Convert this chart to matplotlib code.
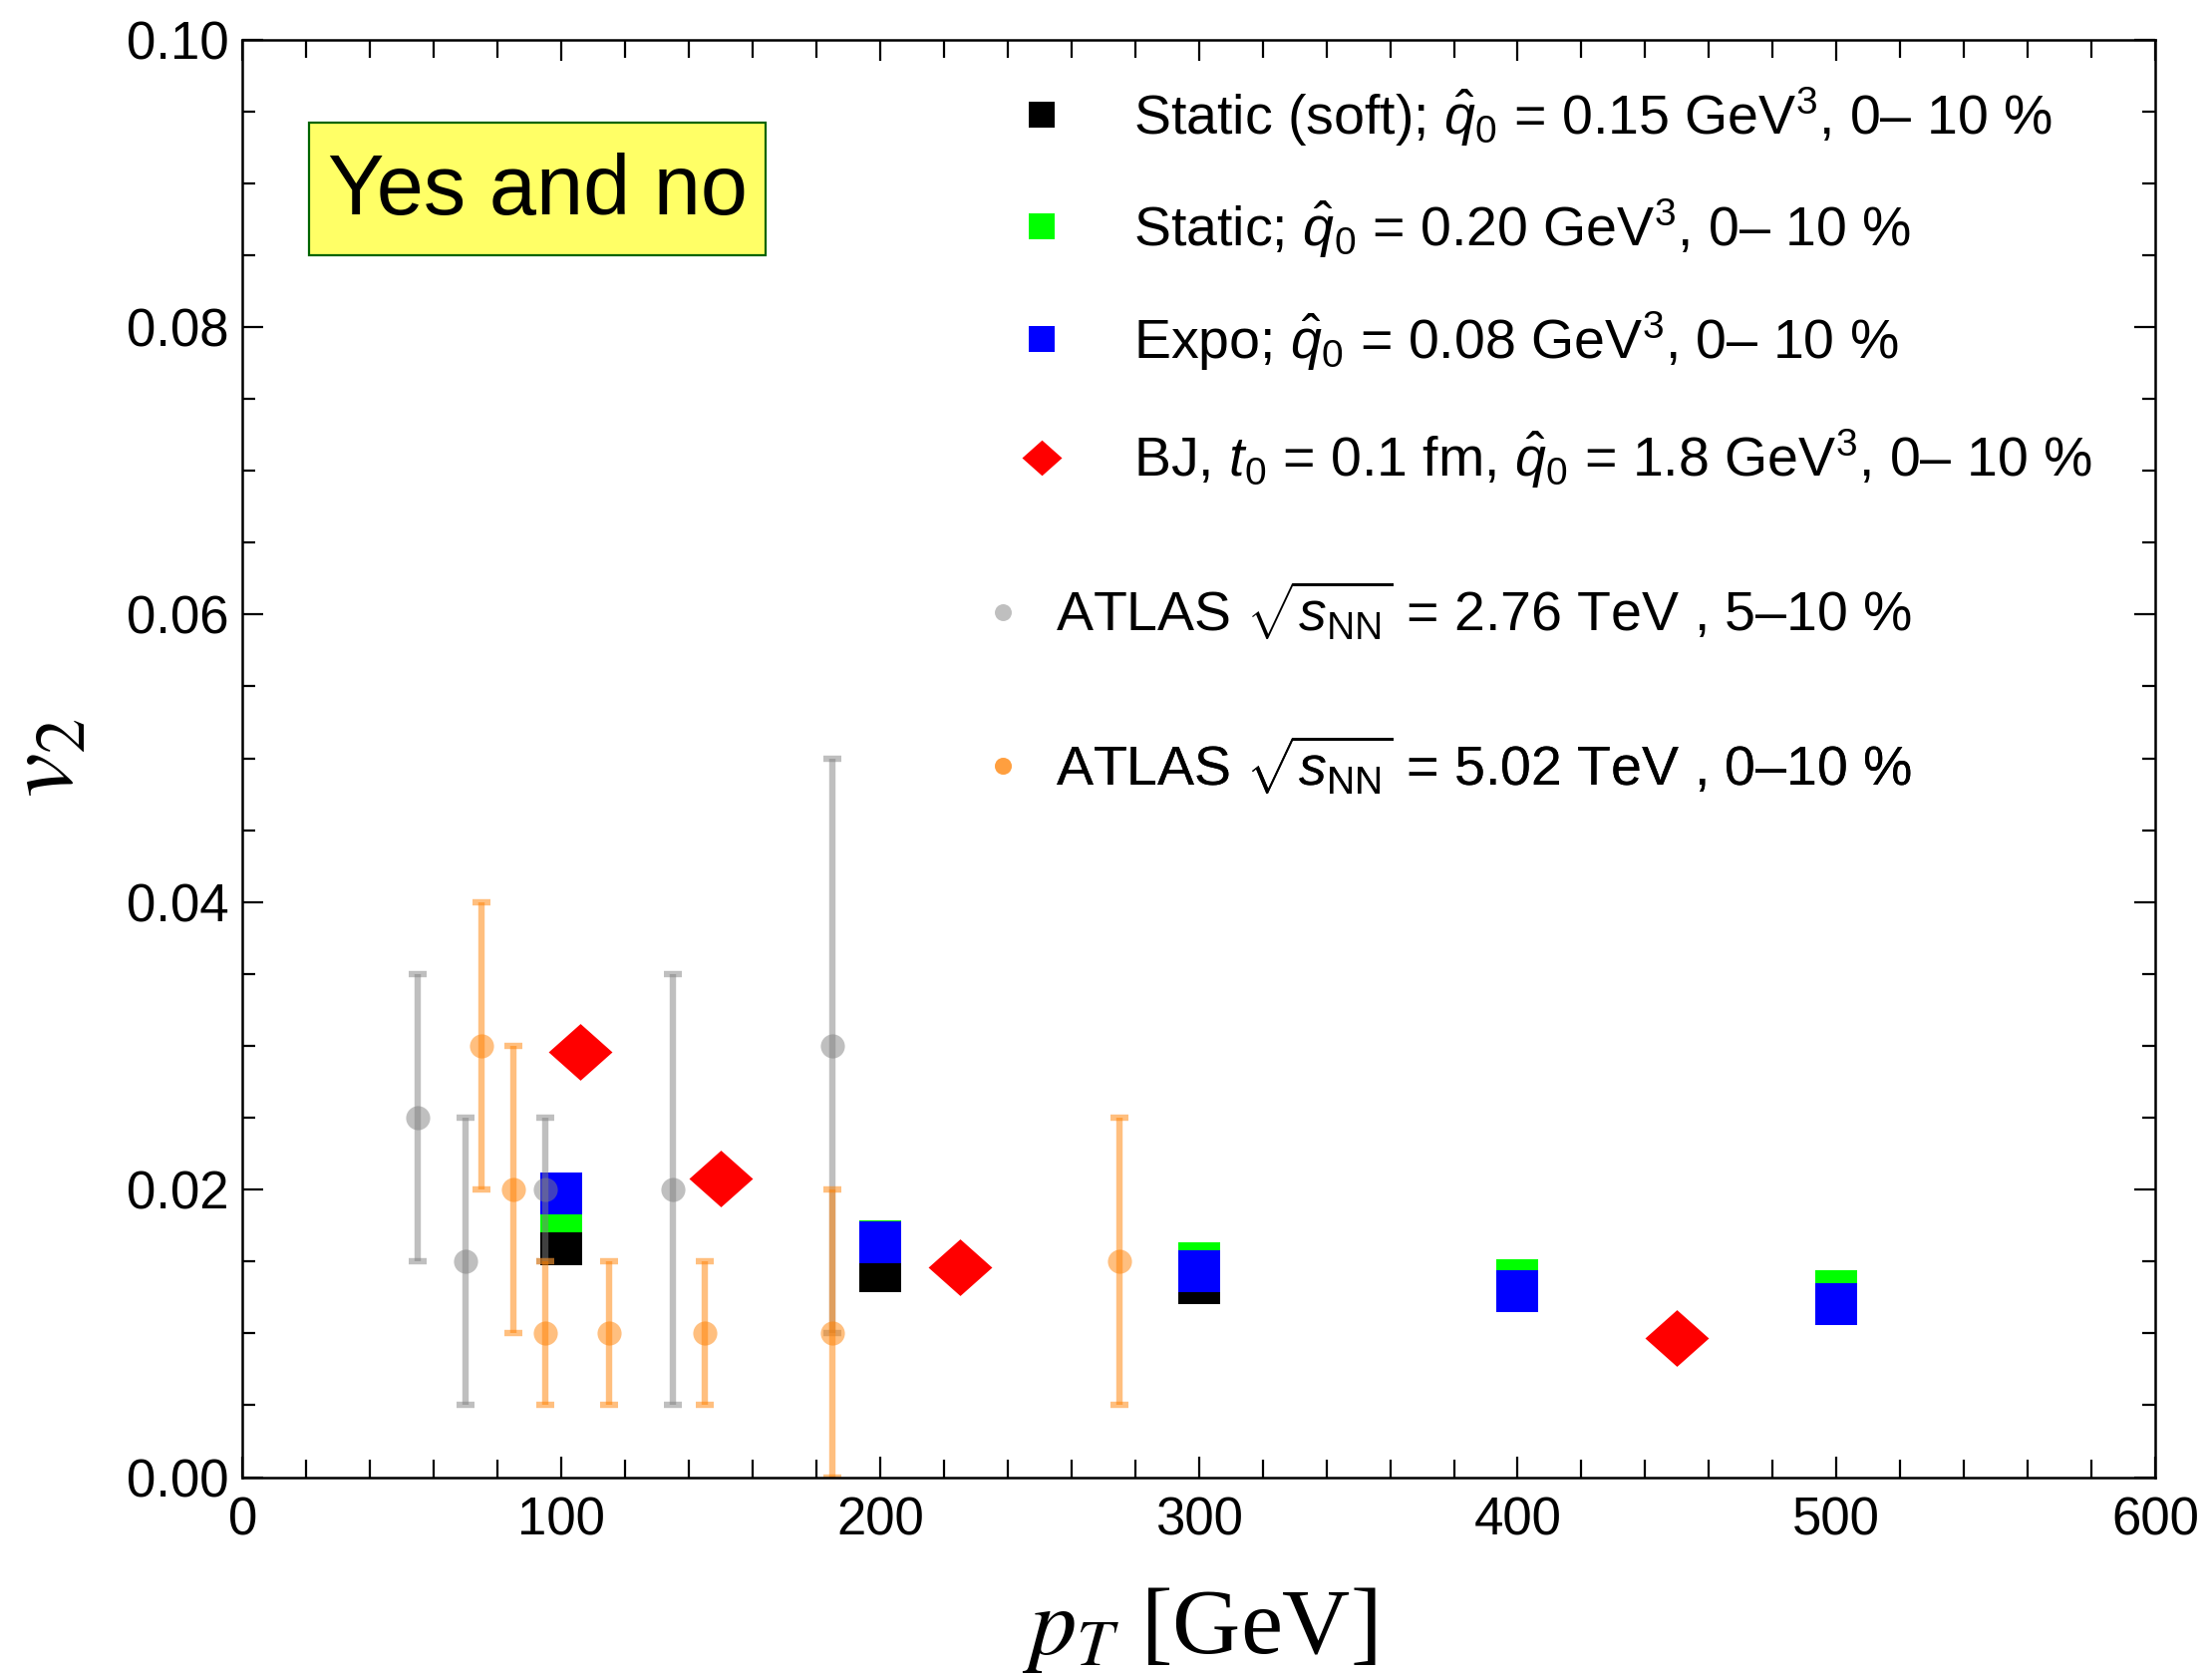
import numpy as np
import matplotlib.pyplot as plt
from matplotlib.lines import Line2D
from matplotlib.patches import Rectangle
from matplotlib.ticker import MultipleLocator, FormatStrFormatter

plt.rcParams['font.family'] = 'Liberation Sans'
plt.rcParams['mathtext.fontset'] = 'custom'
plt.rcParams['mathtext.rm'] = 'Liberation Sans'
plt.rcParams['mathtext.it'] = 'Liberation Sans:italic'
plt.rcParams['mathtext.bf'] = 'Liberation Sans:bold'

# model results (v2 of jets vs pT)
pt_soft = [100, 200, 300]
v2_soft = [0.0162, 0.0143, 0.0135]
pt_static = [100, 200, 300, 400, 500]
v2_static = [0.0185, 0.0164, 0.0149, 0.0137, 0.0129]
pt_expo = [100, 200, 300, 400, 500]
v2_expo = [0.0197, 0.0163, 0.0143, 0.0129, 0.0120]
pt_bj = [106, 150, 225, 450]
v2_bj = [0.0296, 0.0208, 0.0146, 0.0097]

# ATLAS data points with error ranges
pt_276 = np.array([55, 70, 95, 135, 185])
v2_276 = np.array([0.025, 0.015, 0.020, 0.020, 0.030])
lo_276 = np.array([0.015, 0.005, 0.015, 0.005, 0.010])
hi_276 = np.array([0.035, 0.025, 0.025, 0.035, 0.050])
pt_502 = np.array([75, 85, 95, 115, 145, 185, 275])
v2_502 = np.array([0.030, 0.020, 0.010, 0.010, 0.010, 0.010, 0.015])
lo_502 = np.array([0.020, 0.010, 0.005, 0.005, 0.005, 0.000, 0.005])
hi_502 = np.array([0.040, 0.030, 0.015, 0.015, 0.015, 0.020, 0.025])

labels = [
    'Static (soft); $\\hat{q}_0$ = 0.15 GeV$^3$, 0\u2013 10 %',
    'Static; $\\hat{q}_0$ = 0.20 GeV$^3$, 0\u2013 10 %',
    'Expo; $\\hat{q}_0$ = 0.08 GeV$^3$, 0\u2013 10 %',
    'BJ, $t_0$ = 0.1 fm, $\\hat{q}_0$ = 1.8 GeV$^3$, 0\u2013 10 %',
    'ATLAS $\\sqrt{s_{\\rm NN}}$ = 2.76 TeV , 5\u201310 %',
    'ATLAS $\\sqrt{s_{\\rm NN}}$ = 5.02 TeV , 0\u201310 %',
]

gray = (0.5, 0.5, 0.5)
orange = (1.0, 0.5, 0.0)
diamond = [(-1, 0), (0, 0.89), (1, 0), (0, -0.89)]

fig = plt.figure(figsize=(11.095, 8.41), dpi=200)
ax = fig.add_axes([0.1097, 0.1192, 0.8646, 0.8573])

ax.plot(pt_soft, v2_soft, 's', color='black', ms=15, mew=0)
ax.plot(pt_static, v2_static, 's', color=(0, 1, 0), ms=15, mew=0)
ax.plot(pt_expo, v2_expo, 's', color=(0, 0, 1), ms=15, mew=0)
ax.plot(pt_bj, v2_bj, ls='', marker=diamond, color='red', ms=23, mew=0)

ax.errorbar(pt_276, v2_276, yerr=[v2_276 - lo_276, hi_276 - v2_276], fmt='o',
            color=gray, alpha=0.5, ms=8.7, mec='none', elinewidth=2.3,
            capsize=3.3, capthick=2.3)
ax.errorbar(pt_502, v2_502, yerr=[v2_502 - lo_502, hi_502 - v2_502], fmt='o',
            color=orange, alpha=0.5, ms=8.7, mec='none', elinewidth=2.3,
            capsize=3.3, capthick=2.3)

ax.set_xlim(0, 600)
ax.set_ylim(0, 0.1)
ax.xaxis.set_major_locator(MultipleLocator(100))
ax.xaxis.set_minor_locator(MultipleLocator(20))
ax.yaxis.set_major_locator(MultipleLocator(0.02))
ax.yaxis.set_minor_locator(MultipleLocator(0.005))
ax.yaxis.set_major_formatter(FormatStrFormatter('%.2f'))
ax.tick_params(which='both', direction='in', top=True, right=True,
               labelsize=19, width=0.8)
ax.tick_params(axis='x', which='major', length=7.6, pad=7)
ax.tick_params(axis='x', which='minor', length=6.5)
ax.tick_params(axis='y', which='major', length=7.5, pad=5)
ax.tick_params(axis='y', which='minor', length=4.7)
for s in ax.spines.values():
    s.set_linewidth(0.9)

ax.set_xlabel(r'$p_T$ [GeV]', fontsize=34, family='Liberation Serif',
              math_fontfamily='stix', labelpad=14)
ax.set_ylabel(r'$v_2$', fontsize=36, family='Liberation Serif',
              math_fontfamily='stix', labelpad=12)

# annotation box
ax.add_patch(Rectangle((0.0347, 0.850), 0.2387, 0.0922, transform=ax.transAxes,
                       fc='#ffff66', ec='darkgreen', lw=0.8))
ax.text(0.1541, 0.8935, 'Yes and no', transform=ax.transAxes, ha='center',
        va='center', fontsize=30.5)

handles = [
    Line2D([], [], ls='', marker='s', color='black', ms=9.2, mew=0),
    Line2D([], [], ls='', marker='s', color=(0, 1, 0), ms=9.2, mew=0),
    Line2D([], [], ls='', marker='s', color=(0, 0, 1), ms=9.2, mew=0),
    Line2D([], [], ls='', marker=diamond, color='red', ms=14.4, mew=0),
    Line2D([], [], ls='', marker='o', color=gray, alpha=0.5, ms=6.1, mew=0),
    Line2D([], [], ls='', marker='o', color=orange, alpha=0.5, ms=6.1, mew=0),
]
rows = [0.9463, 0.8688, 0.7903, 0.7083, 0.6021, 0.4947]
xs = [0.4032] * 4 + [0.3830] * 2
pads = [1.16] * 4 + [0.45] * 2
for h, lab, y, x, p in zip(handles, labels, rows, xs, pads):
    leg = ax.legend([h], [lab], loc='center left', bbox_to_anchor=(x, y),
                    bbox_transform=ax.transAxes, frameon=False, borderpad=0,
                    borderaxespad=0, handlelength=1.0, handletextpad=p,
                    fontsize=20)
    ax.add_artist(leg)

fig.savefig('out.png', dpi=200)
